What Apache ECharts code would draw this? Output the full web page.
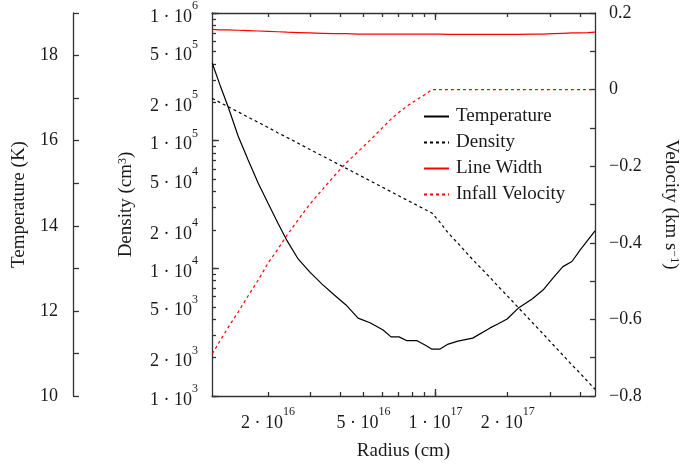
<!DOCTYPE html>
<html>
<head>
<meta charset="utf-8">
<script src="https://cdn.jsdelivr.net/npm/echarts@6/dist/echarts.min.js"></script>
<style>
html, body { margin: 0; padding: 0; background: #fff; }
#chart { width: 682px; height: 466px; }
</style>
</head>
<body>
<div id="chart"></div>
<script>
// radius in cm
var radius = [1.17e16, 1.26e16, 1.36e16, 1.50e16, 1.65e16, 1.82e16, 2.00e16, 2.20e16, 2.40e16, 2.67e16,
    2.99e16, 3.36e16, 3.77e16, 4.23e16, 4.75e16, 5.33e16, 6.04e16, 6.52e16, 7.04e16, 7.60e16,
    8.37e16, 9.04e16, 9.67e16, 1.04e17, 1.13e17, 1.24e17, 1.43e17, 1.69e17, 1.82e17, 1.99e17,
    2.21e17, 2.53e17, 2.81e17, 3.09e17, 3.40e17, 3.71e17, 4.01e17, 4.33e17, 4.63e17];
// K
var temperature = [17.82, 17.31, 16.81, 16.11, 15.55, 15.00, 14.53, 14.06, 13.65, 13.22,
    12.91, 12.63, 12.38, 12.14, 11.83, 11.72, 11.55, 11.39, 11.39, 11.30,
    11.30, 11.20, 11.10, 11.10, 11.22, 11.29, 11.36, 11.60, 11.69, 11.81,
    12.06, 12.28, 12.49, 12.77, 13.04, 13.16, 13.43, 13.67, 13.88];
// cm^-3
var density = [2.15e5, 1.99e5, 1.85e5, 1.68e5, 1.53e5, 1.39e5, 1.27e5, 1.15e5, 1.06e5, 9.55e4,
    8.53e4, 7.62e4, 6.81e4, 6.09e4, 5.43e4, 4.85e4, 4.29e4, 3.98e4, 3.69e4, 3.42e4,
    3.12e4, 2.89e4, 2.71e4, 2.31e4, 1.89e4, 1.57e4, 1.17e4, 8.47e3, 7.27e3, 6.11e3,
    4.95e3, 3.78e3, 3.07e3, 2.53e3, 2.09e3, 1.75e3, 1.51e3, 1.29e3, 1.13e3];
// km/s
var lineWidth = [0.157, 0.156, 0.156, 0.155, 0.154, 0.153, 0.152, 0.151, 0.150, 0.149,
    0.148, 0.147, 0.146, 0.146, 0.145, 0.145, 0.145, 0.145, 0.145, 0.145,
    0.145, 0.145, 0.145, 0.145, 0.144, 0.144, 0.144, 0.144, 0.144, 0.144,
    0.144, 0.145, 0.145, 0.146, 0.147, 0.148, 0.148, 0.149, 0.150];
var infallVelocity = [-0.690, -0.656, -0.622, -0.581, -0.539, -0.497, -0.453, -0.416, -0.380, -0.340,
    -0.299, -0.262, -0.226, -0.192, -0.162, -0.132, -0.098, -0.077, -0.059, -0.043,
    -0.026, -0.013, 0, 0, 0, 0, 0, 0, 0, 0,
    0, 0, 0, 0, 0, 0, 0, 0, 0];

var radiusRange = [1.167e16, 4.63e17];
var radiusTicks = [2e16, 3e16, 4e16, 5e16, 6e16, 7e16, 8e16, 9e16, 1e17, 2e17, 3e17, 4e17];
var radiusMajorTicks = [1e17];
var radiusLabels = [2e16, 5e16, 1e17, 2e17];
var densityRange = [1e3, 1e6];
var densityTicks = [1e3, 2e3, 3e3, 4e3, 5e3, 6e3, 7e3, 8e3, 9e3, 1e4, 2e4, 3e4, 4e4, 5e4, 6e4, 7e4, 8e4, 9e4,
    1e5, 2e5, 3e5, 4e5, 5e5, 6e5, 7e5, 8e5, 9e5, 1e6];
var densityMajorTicks = [1e3, 1e4, 1e5, 1e6];
var densityLabels = [1e3, 2e3, 5e3, 1e4, 2e4, 5e4, 1e5, 2e5, 5e5, 1e6];
var tempTicks = [10, 11, 12, 13, 14, 15, 16, 17, 18, 19];
var tempLabels = [10, 12, 14, 16, 18];
var velTicks = [-0.8, -0.7, -0.6, -0.5, -0.4, -0.3, -0.2, -0.1, 0, 0.1, 0.2];
var velLabels = [-0.8, -0.6, -0.4, -0.2, 0, 0.2];

var FONT = 'Liberation Serif';
var AXIS_COLOR = '#333';
var TEXT_COLOR = '#1a1a1a';

function lg(v) { return Math.log10(v); }
function pairs(ys, logY) {
    var out = [];
    for (var i = 0; i < radius.length; i++) {
        out.push([lg(radius[i]), logY ? lg(ys[i]) : ys[i]]);
    }
    return out;
}
// "2 · 10^16" style label
function powLabel(v) {
    var e = Math.floor(v + 1e-6);
    var m = Math.round(Math.pow(10, v - e));
    return '{b|' + m + ' · 10}{s|' + e + '}';
}
var powRich = {
    b: { fontFamily: FONT, fontSize: 18, color: TEXT_COLOR, lineHeight: 26, verticalAlign: 'bottom' },
    s: { fontFamily: FONT, fontSize: 12, color: TEXT_COLOR, lineHeight: 12, verticalAlign: 'top' }
};
var supRich = {
    s: { fontFamily: FONT, fontSize: 12, color: TEXT_COLOR, verticalAlign: 'top', lineHeight: 12 }
};
var lineStyleAxis = { color: AXIS_COLOR, width: 1.3 };

var chart = echarts.init(document.getElementById('chart'));

var xMin = lg(radiusRange[0]), xMax = lg(radiusRange[1]);
function xAxisDef(pos, ticks, len, withLabels, withLine) {
    return {
        type: 'value', position: pos, min: xMin, max: xMax,
        splitLine: { show: false },
        axisLine: { show: withLine, onZero: false, lineStyle: lineStyleAxis },
        axisTick: { show: true, inside: true, length: len, lineStyle: lineStyleAxis, customValues: ticks.map(lg) },
        axisLabel: withLabels ? {
            show: true, margin: 10, customValues: radiusLabels.map(lg),
            formatter: powLabel, rich: powRich
        } : { show: false },
        name: withLabels ? 'Radius (cm)' : '',
        nameLocation: 'middle', nameGap: 46,
        nameTextStyle: { fontFamily: FONT, fontSize: 19, color: TEXT_COLOR }
    };
}
function yAxisDef(pos, offset, range, ticks, len, withLine) {
    return {
        type: 'value', position: pos, offset: offset, min: range[0], max: range[1],
        splitLine: { show: false },
        axisLine: { show: withLine, onZero: false, lineStyle: lineStyleAxis },
        axisTick: { show: true, inside: true, length: len, lineStyle: lineStyleAxis, customValues: ticks },
        axisLabel: { show: false }
    };
}

var tempAxis = yAxisDef('left', 139, [10, 19], tempTicks, 6, true);
tempAxis.axisLabel = { show: true, margin: 15, customValues: tempLabels, fontFamily: FONT, fontSize: 18, color: TEXT_COLOR };
tempAxis.name = 'Temperature (K)';
tempAxis.nameLocation = 'middle';
tempAxis.nameGap = 44;
tempAxis.nameRotate = 90;
tempAxis.nameTextStyle = { fontFamily: FONT, fontSize: 19, color: TEXT_COLOR };

var densAxis = yAxisDef('left', 0, [lg(densityRange[0]), lg(densityRange[1])], densityTicks.map(lg), 4, true);
densAxis.axisLabel = { show: true, margin: 14, customValues: densityLabels.map(lg), formatter: powLabel, rich: powRich };
densAxis.name = 'Density (cm{s|3})';
densAxis.nameLocation = 'middle';
densAxis.nameGap = 76;
densAxis.nameRotate = 90;
densAxis.nameTextStyle = { fontFamily: FONT, fontSize: 19, color: TEXT_COLOR, rich: supRich };

var densMajorAxis = yAxisDef('left', 0, [lg(densityRange[0]), lg(densityRange[1])], densityMajorTicks.map(lg), 7, false);

var velAxis = yAxisDef('right', 0, [-0.8, 0.2], velTicks, 5, true);
velAxis.axisLabel = {
    show: true, margin: 14, customValues: velLabels, fontFamily: FONT, fontSize: 18, color: TEXT_COLOR,
    formatter: function (v) {
        var s = Math.abs(v) < 1e-9 ? '0' : Math.abs(v).toFixed(1);
        return v < -1e-9 ? '\u2212' + s : s;
    }
};
velAxis.name = 'Velocity (km s{s|\u22121})';
velAxis.nameLocation = 'middle';
velAxis.nameGap = 66;
velAxis.nameRotate = -90;
velAxis.nameTextStyle = { fontFamily: FONT, fontSize: 19, color: TEXT_COLOR, rich: supRich };

var option = {
    animation: false,
    backgroundColor: '#fff',
    grid: { left: 212, right: 87, top: 13, bottom: 70, outerBoundsMode: 'none' },
    legend: {
        orient: 'vertical', left: 418, top: 102,
        itemWidth: 25, itemHeight: 12, itemGap: 7,
        itemStyle: { opacity: 0 },
        textStyle: { fontFamily: FONT, fontSize: 19, color: TEXT_COLOR, padding: [0, 0, 0, 2] },
        data: ['Temperature', 'Density', 'Line Width', 'Infall Velocity']
    },
    xAxis: [
        xAxisDef('bottom', radiusTicks, 4, true, true),
        xAxisDef('bottom', radiusMajorTicks, 7, false, false),
        xAxisDef('top', radiusTicks, 4, false, true),
        xAxisDef('top', radiusMajorTicks, 7, false, false)
    ],
    yAxis: [tempAxis, densAxis, densMajorAxis, velAxis],
    series: [
        {
            name: 'Temperature', type: 'line', xAxisIndex: 0, yAxisIndex: 0,
            data: pairs(temperature, false), showSymbol: false, symbol: 'none',
            lineStyle: { color: '#000', width: 1.2, type: 'solid' }, itemStyle: { color: '#000' }
        },
        {
            name: 'Density', type: 'line', xAxisIndex: 0, yAxisIndex: 1,
            data: pairs(density, true), showSymbol: false, symbol: 'none',
            lineStyle: { color: '#000', width: 1.2, type: [3, 3] }, itemStyle: { color: '#000' }
        },
        {
            name: 'Line Width', type: 'line', xAxisIndex: 0, yAxisIndex: 3,
            data: pairs(lineWidth, false), showSymbol: false, symbol: 'none',
            lineStyle: { color: '#ff0000', width: 1.2, type: 'solid' }, itemStyle: { color: '#ff0000' }
        },
        {
            name: 'Infall Velocity', type: 'line', xAxisIndex: 0, yAxisIndex: 3,
            data: pairs(infallVelocity, false), showSymbol: false, symbol: 'none',
            lineStyle: { color: '#ff0000', width: 1.2, type: [3, 3] }, itemStyle: { color: '#ff0000' }
        }
    ]
};
chart.setOption(option);
</script>
</body>
</html>
